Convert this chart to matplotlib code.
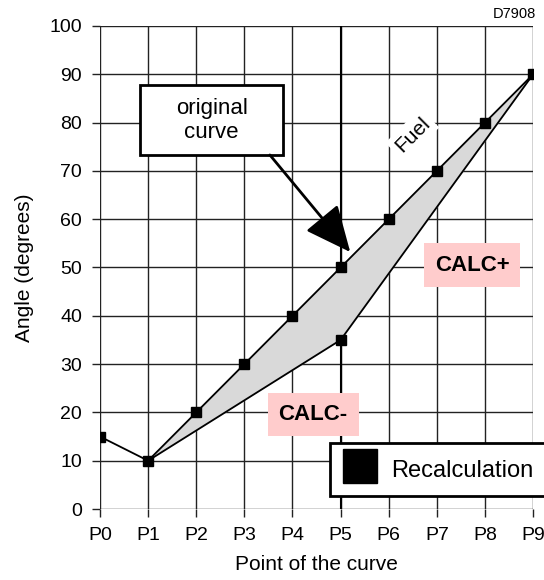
import numpy as np
import matplotlib.pyplot as plt
from matplotlib.lines import Line2D
from matplotlib.patches import Rectangle

plt.rcParams['font.family'] = ['Liberation Sans', 'DejaVu Sans']

# data
points = ['P0', 'P1', 'P2', 'P3', 'P4', 'P5', 'P6', 'P7', 'P8', 'P9']
original = [15, 10, 20, 30, 40, 50, 60, 70, 80, 90]
# lower edge of the fuel band (CALC-)
lower_idx = [1, 5, 9]
lower_val = [10, 35, 90]
# extra recalculation point below the curve
extra_idx = [5]
extra_val = [35]

fig = plt.figure(figsize=(5.44, 5.80), dpi=100)
ax = fig.add_axes([0.1838, 0.1224, 0.7962, 0.8328])
x = np.arange(len(points))

# grey band between original curve and lower edge
band_x = list(x[1:]) + lower_idx[::-1]
band_y = original[1:] + lower_val[::-1]
ax.fill(band_x, band_y, color='#d9d9d9', zorder=2)
ax.plot(lower_idx, lower_val, color='black', lw=1.3, zorder=3)
ax.plot(x, original, color='black', lw=1.3, zorder=3)

# markers
ax.plot(x, original, ls='none', marker='s', ms=7, color='black', zorder=5)
ax.plot(extra_idx, extra_val, ls='none', marker='s', ms=7, color='black', zorder=5)

ax.set_xlim(0, 9)
ax.set_ylim(0, 100)
ax.set_xticks(x)
ax.set_xticklabels(points)
ax.set_yticks(np.arange(0, 101, 10))
ax.tick_params(direction='out', length=6, width=1, color='#222222', labelsize=14, pad=7)
ax.grid(True, color='#222222', lw=1)
ax.set_axisbelow(True)
for s in ax.spines.values():
    s.set_visible(False)
ax.axvline(5, color='black', lw=1.5, zorder=1)

ax.set_xlabel('Point of the curve', fontsize=15, labelpad=8)
ax.set_ylabel('Angle (degrees)', fontsize=15, labelpad=11)

# "original curve" box and arrow
ax.add_patch(Rectangle((0.83, 73.3), 2.97, 14.5, facecolor='white', edgecolor='black', lw=2, zorder=6))
ax.text(2.32, 80.5, 'original\ncurve', ha='center', va='center', fontsize=16, zorder=7, linespacing=1.2)
ax.annotate('', xy=(5.2, 53.2), xytext=(3.53, 73.3), zorder=6,
            arrowprops=dict(arrowstyle='-|>,head_length=1.1,head_width=0.5', mutation_scale=26,
                            color='black', lw=2, shrinkA=0, shrinkB=0))

ax.text(6.49, 77.4, 'Fuel', rotation=45, ha='center', va='center', fontsize=15, zorder=4,
        bbox=dict(facecolor='white', edgecolor='none', pad=3))

ax.text(7.73, 50.5, 'CALC+', ha='center', va='center', fontsize=16, fontweight='bold', zorder=6,
        bbox=dict(boxstyle='square,pad=0.5', facecolor='#ffcccc', edgecolor='none'))
ax.text(4.43, 19.5, 'CALC-', ha='center', va='center', fontsize=16, fontweight='bold', zorder=6,
        bbox=dict(boxstyle='square,pad=0.5', facecolor='#ffcccc', edgecolor='none'))

handle = Line2D([], [], ls='none', marker='s', ms=24, color='black')
leg = fig.legend(handles=[handle], labels=['Recalculation'], loc='upper left',
                 bbox_to_anchor=(0.607, 0.236), fontsize=17, fancybox=False,
                 edgecolor='black', framealpha=1, borderaxespad=0, borderpad=0.5,
                 handletextpad=0.6, handlelength=1.5, handleheight=1.5)
leg.get_frame().set_linewidth(2)

fig.text(0.985, 0.975, 'D7908', ha='right', va='center', fontsize=10.5)

fig.savefig('out.png', dpi=100)
